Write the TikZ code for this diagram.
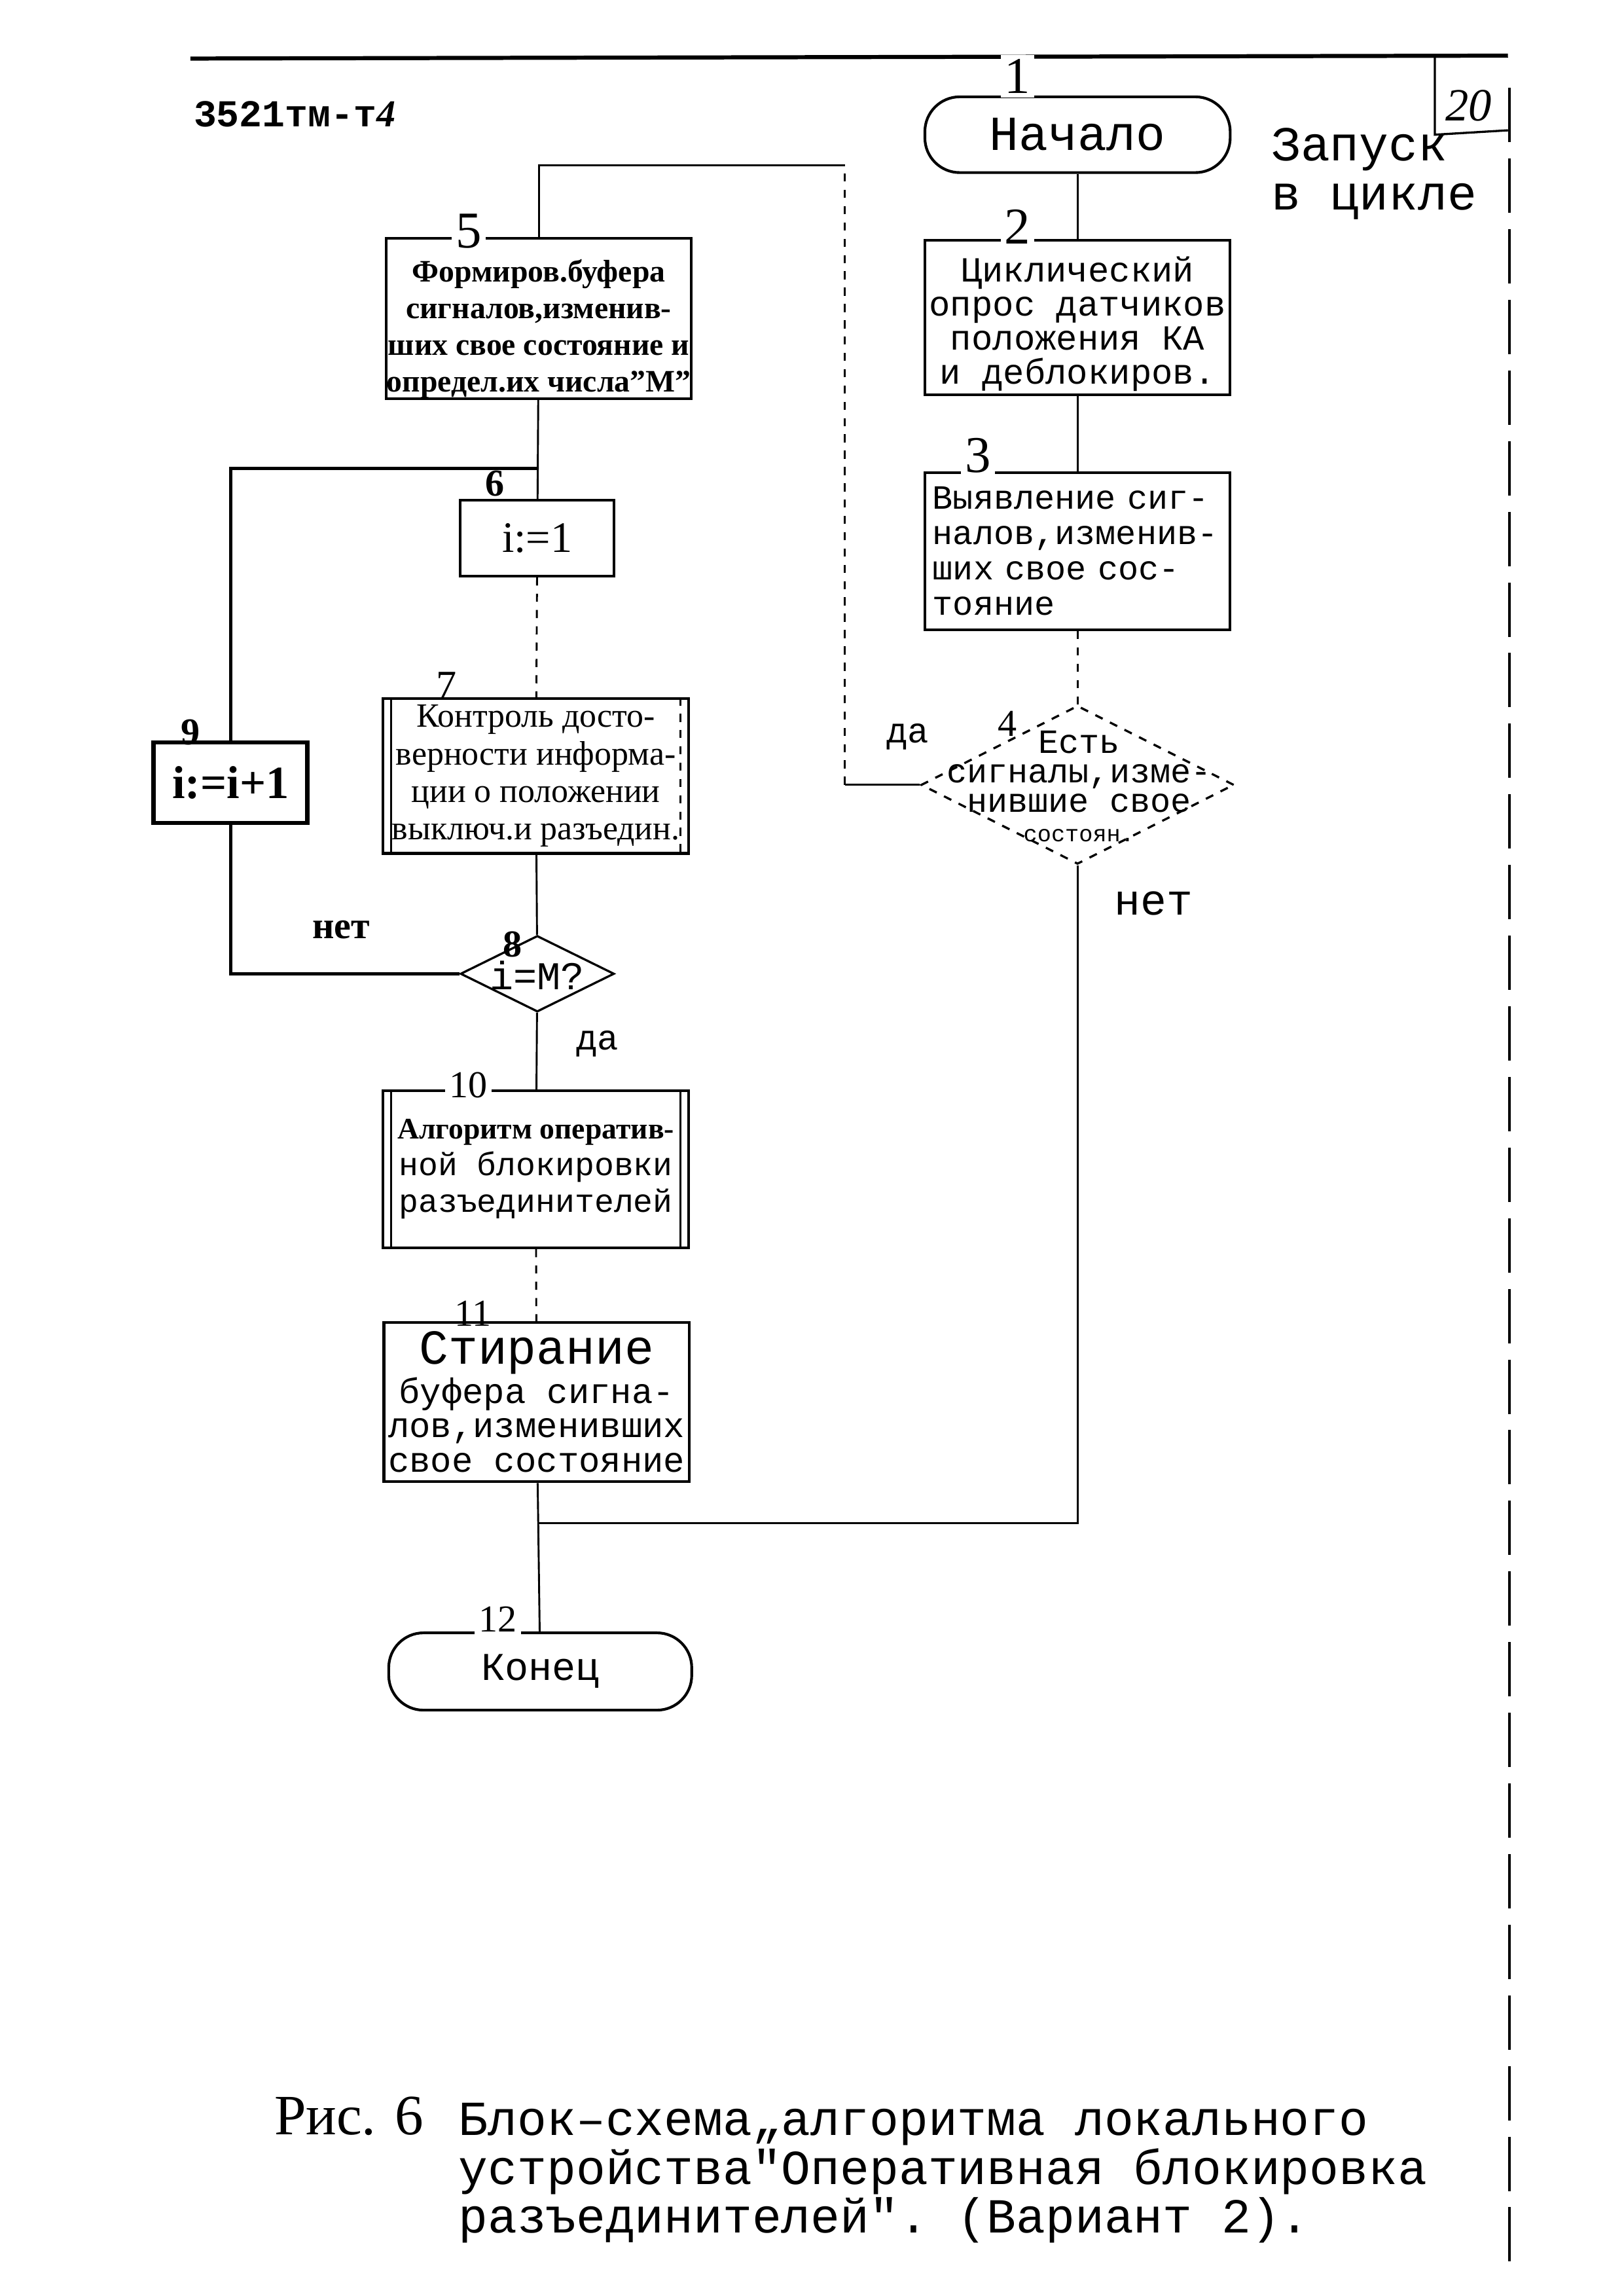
\documentclass[tikz,border=0pt]{standalone}
\usepackage{fontspec}
\setmainfont{Liberation Serif}
\setmonofont{Liberation Mono}
\usetikzlibrary{positioning,shapes.geometric}

\begin{document}
\begin{tikzpicture}[x=0.1894mm, y=-0.1894mm,
  box/.style={draw, line width=1pt, inner sep=0pt, minimum width=39.5mm, minimum height=20mm},
  term/.style={draw, line width=1pt, rounded corners=4.5mm, inner sep=0pt, minimum width=39.5mm, minimum height=9.8mm},
  small/.style={draw, line width=1pt, inner sep=0pt, minimum width=19.9mm, minimum height=9.8mm},
  dia/.style={draw, diamond, inner sep=0pt, line width=.8pt},
  num/.style={fill=white, inner sep=1.5pt, font=\fontsize{19}{19}\selectfont},
  numb/.style={inner sep=0pt, font=\bfseries\fontsize{14}{14}\selectfont},
  tt/.style 2 args={font=\ttfamily\fontsize{#1}{#2}\selectfont},
  ln/.style={line width=.7pt},
]
\useasboundingbox (0,0) rectangle (1109,1568);

% header of the sheet
\draw[line width=1.5pt] (130,40) -- (1030,38);
\draw[line width=.8pt] (980,39) -- (980,92) -- (1030,89);
\draw[line width=.8pt, dash pattern=on 20pt off 6pt] (1031,60) -- (1031,1545);
\node[anchor=west, inner sep=0pt, font=\ttfamily\bfseries\fontsize{14}{14}\selectfont] (code) at (132,78) {3521тм-т{\rmfamily\itshape 4}};
\node[font=\itshape\fontsize{17}{17}\selectfont] (page) at (1003,72) {20};

% right column
\node[term, tt={18}{18}] (S1) at (736,92) {Начало};
\node[num] (S1_num) at (695,52) {1};
\node[anchor=north west, align=left, inner sep=0pt, tt={18}{18}] (note) at (868,87) {Запуск\\в цикле};

\node[box, align=center, tt={13}{12.5}] (B2) at (736,217) {\rule{0pt}{14pt}Циклический\\опрос датчиков\\положения КА\\и деблокиров.};
\node[num] (B2_num) at (695,155) {2};

\node[box, minimum height=20.3mm, text width=37.5mm, align=left, tt={12.5}{13}] (B3) at (736,376.5) {Выявление сиг-\\налов,изменив-\\ших свое сос-\\тояние};
\node[num] (B3_num) at (668,311) {3};

\node[dia, dashed, minimum width=40.5mm, minimum height=20.5mm] (D4) at (736,536) {};
\node[align=center, inner sep=0pt, font=\ttfamily\fontsize{12.5}{10.8}\selectfont] (D4_txt) at (737,537) {Есть\\сигналы,изме-\\нившие свое\\{\fontsize{8.5}{8.5}\selectfont состоян.}};
\node[inner sep=0pt, font=\fontsize{14}{14}\selectfont] (D4_num) at (688,494) {4};

% left column
\node[box, align=center, font=\bfseries\fontsize{11.5}{13.5}\selectfont] (B5) at (368,217.5) {\rule{0pt}{16pt}Формиров.буфера\\сигналов,изменив-\\ших свое состояние и\\определ.их числа"М"};
\node[num] (B5_num) at (320,158) {5};

\node[small, font=\fontsize{16}{16}\selectfont] (B6) at (367,367.5) {i:=1};
\node[numb] (B6_num) at (338,330) {6};

\node[box, align=center, font=\fontsize{12.5}{13.8}\selectfont] (B7) at (366,530) {Контроль досто-\\верности информа-\\ции о положении\\выключ.и разъедин.};
\node[inner sep=0pt, font=\fontsize{15}{15}\selectfont] (B7_num) at (305,468) {7};

\node[small, line width=1.6pt, minimum height=10.4mm, font=\bfseries\fontsize{17}{17}\selectfont] (B9) at (157.5,534.5) {i:=i+1};
\node[numb] (B9_num) at (130,500) {9};

\node[dia, minimum width=19.9mm, minimum height=9.85mm] (D8) at (367,665) {};
\node[inner sep=0pt, tt={14.5}{14.5}] (D8_txt) at (367,666) {i=М?};
\node[numb] (D8_num) at (350,645) {8};

\node[box, minimum height=20.3mm, align=center, tt={12}{13.5}] (B10) at (366,798.5) {{\rmfamily\bfseries\fontsize{11}{13.5}\selectfont Алгоритм оператив-}\\ной блокировки\\разъединителей};
\node[num, font=\fontsize{14}{14}\selectfont] (B10_num) at (320,741) {10};

\node[box, minimum height=20.6mm, align=center, tt={13}{12.7}] (B11) at (366.5,957.5) {{\fontsize{18}{12.7}\selectfont Стирание}\\буфера сигна-\\лов,изменивших\\свое состояние};
\node[inner sep=0pt, font=\fontsize{14}{14}\selectfont] (B11_num) at (323,897) {11};

\node[term, minimum width=39.2mm, minimum height=10mm, tt={14.5}{14.5}] (E12) at (369,1141.5) {Конец};
\node[num, font=\fontsize{14}{14}\selectfont] (E12_num) at (340,1106) {12};

% double sides of the predefined process blocks
\draw[line width=.6pt] ([xshift=1.2mm]B7.north west) -- ([xshift=1.2mm]B7.south west);
\draw[line width=.6pt, dashed] ([xshift=-1.2mm]B7.north east) -- ([xshift=-1.2mm]B7.south east);
\draw[line width=.6pt] ([xshift=1.2mm]B10.north west) -- ([xshift=1.2mm]B10.south west);
\draw[line width=.6pt] ([xshift=-1.2mm]B10.north east) -- ([xshift=-1.2mm]B10.south east);

% connectors
\coordinate (yes4b) at (577,536);
\coordinate (yes4t) at (577,113);
\coordinate (loop) at (367,320);
\coordinate (join) at (367,1040);

\draw[ln] (S1) -- (B2);
\draw[ln] (B2) -- (B3);
\draw[ln, dashed] (B3) -- (D4);
\draw[ln] (D4.west) -- (yes4b);
\draw[ln, dashed] (yes4b) -- (yes4t);
\draw[ln] (yes4t) -| (B5.north);
\draw[ln] (D4.south) |- (join);
\draw[ln] (B5) -- (B6);
\draw[line width=1.2pt] (B9.north) |- (loop);
\draw[ln, dashed] (B6) -- (B7);
\draw[ln] (B7) -- (D8);
\draw[line width=1.2pt] (D8.west) -| (B9.south);
\draw[ln] (D8) -- (B10);
\draw[ln, dashed] (B10) -- (B11);
\draw[ln] (B11) -- (E12);

\node[tt={13}{13}] (D4_yes) at (620,503) {да};
\node[tt={16}{16}] (D4_no) at (788,617) {нет};
\node[font=\bfseries\fontsize{14}{14}\selectfont] (D8_no) at (233,635) {нет};
\node[tt={13}{13}] (D8_yes) at (408,713) {да};

% caption
\node[anchor=west, inner sep=0pt, font=\fontsize{21}{21}\selectfont] (fig) at (187,1445) {Рис. 6};
\node[anchor=north west, align=left, inner sep=0pt, tt={18}{16.2}] (title) at (313,1436) {Блок–схема„алгоритма локального\\устройства"Оперативная блокировка\\разъединителей". (Вариант 2).};
\end{tikzpicture}
\end{document}
